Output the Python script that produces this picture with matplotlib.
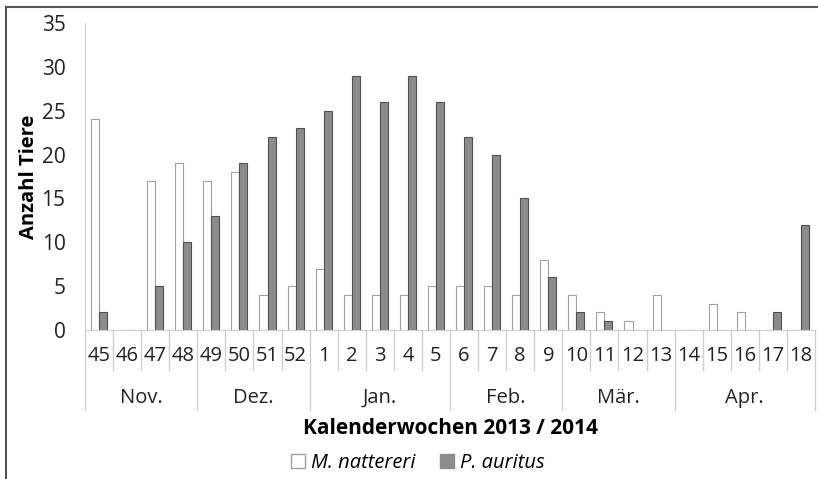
import numpy as np
import matplotlib.pyplot as plt
from matplotlib.lines import Line2D
from matplotlib.patches import Patch

weeks = ['45', '46', '47', '48', '49', '50', '51', '52', '1', '2', '3', '4', '5',
         '6', '7', '8', '9', '10', '11', '12', '13', '14', '15', '16', '17', '18']
nattereri = [24, 0, 17, 19, 17, 18, 4, 5, 7, 4, 4, 4, 5, 5, 5, 4, 8, 4, 2, 1, 4, 0, 3, 2, 0, 0]
auritus = [2, 0, 5, 10, 13, 19, 22, 23, 25, 29, 26, 29, 26, 22, 20, 15, 6, 2, 1, 0, 0, 0, 0, 0, 2, 12]
months = ['Nov.', 'Dez.', 'Jan.', 'Feb.', 'Mär.', 'Apr.']
month_len = [4, 4, 5, 4, 4, 5]

plt.rcParams['font.family'] = ['Open Sans', 'DejaVu Sans']

fig = plt.figure(figsize=(8.18, 4.79), dpi=100)
ax = fig.add_axes([85 / 818, 149 / 479, 730 / 818, 307 / 479])

x = np.arange(len(weeks))
w = 0.285
ax.bar(x - w / 2, nattereri, w, color='white', edgecolor='#a0a0a0', linewidth=0.8)
ax.bar(x + w / 2, auritus, w, color='#8c8c8c', edgecolor='#505050', linewidth=0.8)

ax.set_xlim(-0.5, len(weeks) - 0.5)
ax.set_ylim(0, 35)
ax.set_yticks(range(0, 36, 5))
ax.tick_params(axis='y', labelsize=15, length=0, pad=14, colors='#222222')
ax.set_xticks([])
for s in ['top', 'right']:
    ax.spines[s].set_visible(False)
ax.spines['left'].set_color('#cfcfcf')
ax.spines['bottom'].set_color('#cfcfcf')

# category axis with weeks and months
for i, lab in enumerate(weeks):
    ax.text(i, -0.085, lab, transform=ax.get_xaxis_transform(), ha='center', va='center',
            fontsize=14.5, color='#222222')
bounds = np.cumsum([0] + month_len) - 0.5
for i in range(len(weeks) + 1):
    xb = i - 0.5
    if xb in bounds:
        y0 = -0.26
    else:
        y0 = -0.13
    ax.add_line(Line2D([xb, xb], [0, y0], transform=ax.get_xaxis_transform(),
                       color='#cfcfcf', linewidth=1, clip_on=False))
for m, a, b in zip(months, bounds[:-1], bounds[1:]):
    ax.text((a + b) / 2, -0.222, m, transform=ax.get_xaxis_transform(), ha='center',
            va='center', fontsize=14.5, color='#222222')

ax.set_ylabel('Anzahl Tiere', fontsize=14.5, fontweight='bold')
ax.yaxis.set_label_coords(-0.063, 0.5)
fig.text(450 / 818, 1 - 428 / 479, 'Kalenderwochen 2013 / 2014', ha='center', va='center',
         fontsize=15, fontweight='bold')

handles = [Patch(facecolor='white', edgecolor='#a0a0a0'), Patch(facecolor='#8c8c8c', edgecolor='#8c8c8c')]
leg = fig.legend(handles, ['M. nattereri', 'P. auritus'], loc='center', ncol=2,
                 bbox_to_anchor=(418 / 818, 1 - 463 / 479), frameon=False,
                 prop={'style': 'italic', 'size': 14.5}, handlelength=0.7, handleheight=0.7,
                 handletextpad=0.3, columnspacing=1.2)

# outer frame (top and left visible)
fig.add_artist(Line2D([6 / 818, 6 / 818], [0, 1 - 7 / 479], transform=fig.transFigure,
                      color='#555555', linewidth=1.5))
fig.add_artist(Line2D([6 / 818, 1], [1 - 7 / 479, 1 - 7 / 479], transform=fig.transFigure,
                      color='#555555', linewidth=1.5))

fig.savefig('out.png', dpi=100)
